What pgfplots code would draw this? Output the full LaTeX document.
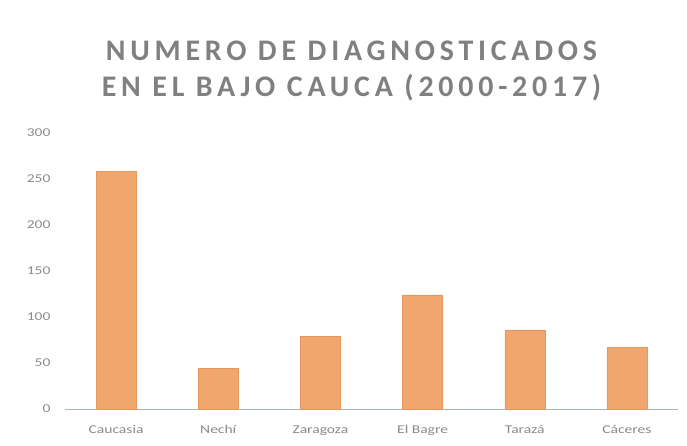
\documentclass[border=0pt]{standalone}
\usepackage{pgfplots}
\pgfplotsset{compat=1.18}
\usepackage{fontspec}
\setmainfont{Carlito}
\newfontfamily\titlefont[LetterSpace=16]{Carlito}
\newfontfamily\tickfont[FakeStretch=1.3]{Carlito}
\definecolor{barfill}{HTML}{F0A66E}
\definecolor{baredge}{HTML}{E8955E}
\definecolor{txtgray}{HTML}{8A8A8A}
\definecolor{titlegray}{HTML}{808080}
\definecolor{axgray}{HTML}{A9B4C2}

\begin{document}
\begin{tikzpicture}
\path[use as bounding box] (0,0) rectangle (687bp,446bp);
\node[align=center, text=titlegray, font=\titlefont\bfseries\fontsize{30}{36}\selectfont]
  at (351.5bp,375bp) {NUMERO DE DIAGNOSTICADOS\\EN EL BAJO CAUCA (2000-2017)};
\begin{axis}[
  at={(65bp,37bp)}, anchor=south west,
  scale only axis, width=613bp, height=276bp,
  ybar, bar width=40bp,
  xmin=-0.5, xmax=5.5, ymin=0, ymax=300,
  ytick={0,50,...,300},
  xtick=data,
  xticklabels={Caucasia, Nechí, Zaragoza, El Bagre, Tarazá, Cáceres},
  axis lines*=left,
  x axis line style={axgray, line width=0.8pt, -},
  y axis line style={draw=none},
  major tick length=0pt,
  tick label style={font=\tickfont\fontsize{12}{13}\selectfont, text=txtgray},
  yticklabel style={xshift=-11bp},
  xticklabel style={yshift=-13bp},
  /pgf/number format/assume math mode=true,
  clip=false,
]
\addplot[fill=barfill, draw=baredge, line width=0.4pt] coordinates {
  (0,258) (1,44) (2,79) (3,124) (4,86) (5,67)};
\end{axis}
\end{tikzpicture}
\end{document}
